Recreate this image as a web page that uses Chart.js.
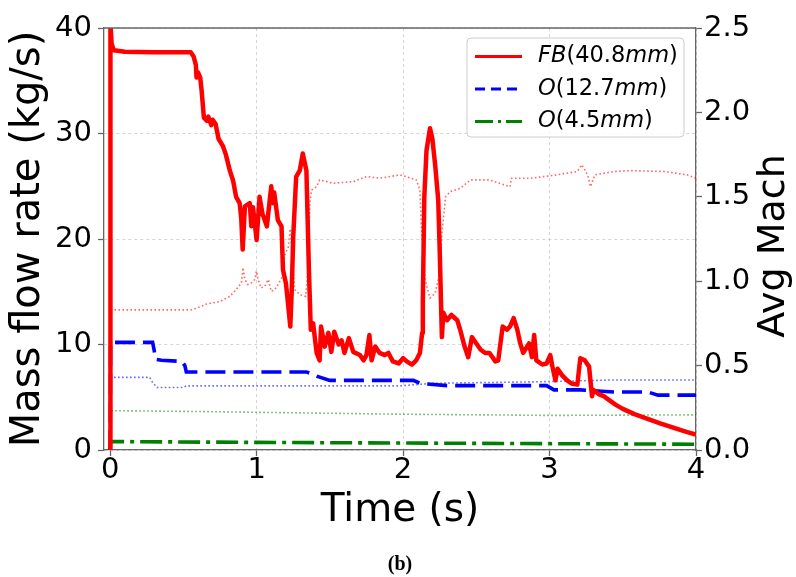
<!DOCTYPE html>
<html>
<head>
<meta charset="utf-8">
<script src="https://cdn.jsdelivr.net/npm/chart.js@4.4.1/dist/chart.umd.min.js"></script>
<style>
html,body{margin:0;padding:0;background:#fff;}
#c{display:block;}
</style>
</head>
<body>
<canvas id="c" width="796" height="577"></canvas>
<script>
// ---------- DATA ----------
const xTicks = [0, 1, 2, 3, 4];
const yTicks = [0, 10, 20, 30, 40];
const y2Ticks = [0, 0.5, 1.0, 1.5, 2.0, 2.5];
const legendLabels = ['FB(40.8mm)', 'O(12.7mm)', 'O(4.5mm)'];
const xTitle = 'Time (s)';
const yTitle = 'Mass flow rate (kg/s)';
const y2Title = 'Avg Mach';
const caption = '(b)';

// FB(40.8mm) mass flow rate
const fbTime = [
  0, 0.002, 0.01, 0.025, 0.1, 0.3, 0.55, 0.57, 0.585, 0.59,
  0.6, 0.615, 0.625, 0.64, 0.66, 0.67, 0.69, 0.7, 0.72, 0.74,
  0.77, 0.79, 0.817, 0.84, 0.86, 0.884, 0.895, 0.905, 0.92, 0.953,
  0.964, 0.975, 1.0, 1.02, 1.04, 1.07, 1.1, 1.11, 1.12, 1.145,
  1.17, 1.18, 1.2, 1.21, 1.23, 1.24, 1.25, 1.27, 1.295, 1.315,
  1.34, 1.357, 1.37, 1.386, 1.41, 1.43, 1.44, 1.465, 1.49, 1.51,
  1.53, 1.56, 1.58, 1.6, 1.63, 1.66, 1.705, 1.73, 1.75, 1.77,
  1.785, 1.81, 1.84, 1.875, 1.9, 1.93, 1.97, 2.0, 2.025, 2.06,
  2.09, 2.115, 2.13, 2.135, 2.145, 2.16, 2.184, 2.2, 2.22, 2.24,
  2.25, 2.265, 2.275, 2.3, 2.33, 2.37, 2.39, 2.42, 2.445, 2.47,
  2.5, 2.53, 2.56, 2.59, 2.63, 2.65, 2.68, 2.71, 2.73, 2.755,
  2.78, 2.8, 2.82, 2.86, 2.88, 2.895, 2.91, 2.95, 2.98, 3.005,
  3.02, 3.04, 3.055, 3.085, 3.12, 3.15, 3.19, 3.21, 3.24, 3.27,
  3.29, 3.3, 3.335, 3.37, 3.4, 3.45, 3.5, 3.58, 3.66, 3.76,
  3.86, 3.94, 4.0
];
const fbFlow = [
  0, 40.5, 38.5, 37.9, 37.75, 37.7, 37.7, 37.3, 36.5, 35.3,
  35.8, 35.3, 34.0, 31.5, 31.2, 31.6, 30.8, 31.3, 30.9, 29.5,
  28.8, 28.0, 26.5, 25.5, 24.0, 23.4, 22.0, 19.0, 23.1, 23.4,
  21.2, 23.0, 19.9, 24.0, 22.4, 21.2, 25.0, 23.4, 24.4, 21.8,
  21.2, 17.1, 15.8, 14.5, 11.7, 15.2, 20.2, 25.9, 26.5, 28.1,
  26.5, 17.1, 11.4, 12.0, 9.2, 8.5, 11.7, 9.8, 11.1, 9.3,
  11.2, 10.0, 10.4, 9.2, 10.6, 9.3, 9.0, 8.5, 9.0, 10.9,
  8.5, 9.8, 9.2, 9.0, 9.2, 8.4, 8.2, 8.7, 8.4, 8.1,
  8.5, 9.2, 11.1, 14.2, 24.0, 28.4, 30.5, 29.5, 26.9, 23.7,
  19.0, 10.7, 13.0, 12.3, 12.8, 12.3, 11.4, 9.8, 8.8, 10.7,
  10.1, 9.5, 9.2, 9.2, 8.4, 8.5, 11.7, 11.4, 11.7, 12.5,
  11.4, 10.1, 9.2, 10.1, 8.8, 10.9, 8.5, 8.1, 8.2, 9.0,
  7.9, 6.6, 7.7, 7.1, 6.6, 6.3, 6.2, 8.7, 8.5, 7.9,
  5.1, 5.7, 5.3, 5.1, 4.8, 4.3, 3.9, 3.4, 3.0, 2.5,
  2.05, 1.7, 1.45
];

// FB(40.8mm) average Mach (right axis)
const fbMachTime = [
  0, 0.003, 0.3, 0.55, 0.59, 0.66, 0.75, 0.817, 0.86, 0.896,
  0.907, 0.92, 0.94, 0.964, 0.987, 0.999, 1.01, 1.03, 1.055, 1.08,
  1.1, 1.124, 1.153, 1.176, 1.19, 1.215, 1.23, 1.26, 1.295, 1.335,
  1.35, 1.363, 1.375, 1.41, 1.43, 1.48, 1.52, 1.66, 1.75, 1.84,
  1.98, 2.09, 2.115, 2.127, 2.15, 2.184, 2.22, 2.25, 2.265, 2.29,
  2.32, 2.39, 2.46, 2.59, 2.73, 2.74, 2.87, 3.05, 3.19, 3.22,
  3.26, 3.28, 3.31, 3.44, 3.55, 3.78, 3.94, 4.0
];
const fbMach = [
  0, 0.83, 0.83, 0.83, 0.84, 0.865, 0.88, 0.91, 0.95, 0.99,
  1.08, 1.01, 0.98, 0.99, 1.01, 1.06, 1.01, 0.96, 0.97, 1.01,
  0.94, 0.95, 0.99, 1.03, 1.15, 1.2, 1.31, 0.95, 0.92, 0.91,
  1.07, 1.46, 1.54, 1.56, 1.6, 1.59, 1.58, 1.59, 1.62, 1.61,
  1.63, 1.6, 1.54, 1.28, 1.01, 0.9, 0.93, 1.05, 1.28, 1.5,
  1.53, 1.55, 1.6, 1.6, 1.56, 1.61, 1.61, 1.63, 1.65, 1.69,
  1.63, 1.56, 1.63, 1.65, 1.655, 1.65, 1.63, 1.61
];

// O(12.7mm)
const o12Time = [0, 0.003, 0.29, 0.30, 0.31, 0.35, 0.49, 0.51, 0.52, 1.34, 1.38, 1.41, 1.5, 2.07, 2.12, 2.3, 2.98, 3.03, 3.21, 3.44, 3.67, 3.74, 4.0];
const o12Flow = [0, 10.2, 10.2, 9.5, 8.6, 8.5, 8.4, 8.0, 7.4, 7.4, 7.2, 7.0, 6.6, 6.6, 6.3, 6.1, 6.1, 5.7, 5.7, 5.5, 5.5, 5.2, 5.2];
const o12MachTime = [0, 0.003, 0.27, 0.29, 0.32, 0.5, 0.52, 1.98, 2.2, 2.98, 3.44, 4.0];
const o12Mach = [0, 0.43, 0.43, 0.40, 0.37, 0.37, 0.38, 0.38, 0.395, 0.405, 0.415, 0.415];

// O(4.5mm)
const o45Time = [0, 0.003, 1.0, 2.0, 3.0, 4.0];
const o45Flow = [0, 0.8, 0.72, 0.66, 0.6, 0.55];
const o45MachTime = [0, 0.003, 0.6, 1.98, 3.0, 4.0];
const o45Mach = [0, 0.233, 0.228, 0.212, 0.205, 0.208];

// ---------- STYLE ----------
const FONT = '"DejaVu Sans", "Liberation Sans", sans-serif';
const SPINE = '#666666';
const GRID = 'rgba(170,170,170,0.55)';

const pts = (xs, ys) => xs.map((x, i) => ({x: x, y: ys[i]}));

const datasets = [
  {label: legendLabels[0], data: pts(fbTime, fbFlow), yAxisID: 'y',
   borderColor: '#ff0000', borderWidth: 4.5, borderJoinStyle: 'round'},
  {label: legendLabels[1], data: pts(o12Time, o12Flow), yAxisID: 'y',
   borderColor: '#0000ff', borderWidth: 3.6, borderDash: [20, 8]},
  {label: legendLabels[2], data: pts(o45Time, o45Flow), yAxisID: 'y',
   borderColor: '#008000', borderWidth: 3.6, borderDash: [22, 6, 4, 6]},
  {label: 'FB Mach', data: pts(fbMachTime, fbMach), yAxisID: 'y2',
   borderColor: 'rgba(255,0,0,0.6)', borderWidth: 1.6, borderDash: [1.6, 2.4]},
  {label: 'O12 Mach', data: pts(o12MachTime, o12Mach), yAxisID: 'y2',
   borderColor: 'rgba(0,0,255,0.6)', borderWidth: 1.6, borderDash: [1.6, 2.4]},
  {label: 'O45 Mach', data: pts(o45MachTime, o45Mach), yAxisID: 'y2',
   borderColor: 'rgba(0,128,0,0.6)', borderWidth: 1.6, borderDash: [1.6, 2.4]}
];
datasets.forEach(d => { d.pointRadius = 0; d.fill = false; d.tension = 0; });

const legendStyles = [
  {color: '#ff0000', dash: []},
  {color: '#0000ff', dash: [10, 6]},
  {color: '#008000', dash: [18, 5, 3, 5]}
];

function roundRect(ctx, x, y, w, h, r) {
  ctx.beginPath();
  ctx.moveTo(x + r, y);
  ctx.lineTo(x + w - r, y); ctx.quadraticCurveTo(x + w, y, x + w, y + r);
  ctx.lineTo(x + w, y + h - r); ctx.quadraticCurveTo(x + w, y + h, x + w - r, y + h);
  ctx.lineTo(x + r, y + h); ctx.quadraticCurveTo(x, y + h, x, y + h - r);
  ctx.lineTo(x, y + r); ctx.quadraticCurveTo(x, y, x + r, y);
  ctx.closePath();
}

function drawMath(ctx, text, x, y, size) {
  const parts = text.match(/[A-Za-z]+|[^A-Za-z]+/g);
  parts.forEach(p => {
    const it = /[A-Za-z]/.test(p);
    ctx.font = (it ? 'italic ' : '') + size + 'px ' + FONT;
    ctx.fillText(p, x, y);
    x += ctx.measureText(p).width;
  });
}

const extras = {
  id: 'extras',
  afterDraw(chart) {
    const ctx = chart.ctx;
    const a = chart.chartArea;
    ctx.save();
    // top spine
    ctx.strokeStyle = SPINE; ctx.lineWidth = 1.3; ctx.setLineDash([]);
    ctx.beginPath(); ctx.moveTo(a.left, a.top); ctx.lineTo(a.right, a.top); ctx.stroke();

    // legend
    const lx = 467, ly = 38, lw = 217, lh = 99;
    roundRect(ctx, lx, ly, lw, lh, 4);
    ctx.fillStyle = 'rgba(255,255,255,0.85)'; ctx.fill();
    ctx.strokeStyle = '#cccccc'; ctx.lineWidth = 1; ctx.stroke();
    const rows = [56.5, 89, 121.5];
    legendLabels.forEach((lab, i) => {
      const s = legendStyles[i];
      ctx.save();
      ctx.strokeStyle = s.color; ctx.lineWidth = 2.8; ctx.setLineDash(s.dash);
      ctx.beginPath(); ctx.moveTo(475, rows[i]); ctx.lineTo(522, rows[i]); ctx.stroke();
      ctx.restore();
      ctx.fillStyle = '#000'; ctx.textBaseline = 'middle'; ctx.textAlign = 'left';
      drawMath(ctx, lab, 538, rows[i], 22.5);
    });

    // right axis title
    ctx.save();
    ctx.translate(774, 246); ctx.rotate(-Math.PI / 2);
    ctx.font = '38px ' + FONT; ctx.fillStyle = '#000';
    ctx.textAlign = 'center'; ctx.textBaseline = 'middle';
    ctx.fillText(y2Title, 0, 0);
    ctx.restore();

    // caption
    ctx.font = 'bold 20px "Liberation Serif", "DejaVu Serif", serif';
    ctx.fillStyle = '#000'; ctx.textAlign = 'center'; ctx.textBaseline = 'middle';
    ctx.fillText(caption, 400, 565);
    ctx.restore();
  }
};

new Chart(document.getElementById('c'), {
  type: 'line',
  data: {datasets: datasets},
  plugins: [extras],
  options: {
    responsive: false,
    animation: false,
    events: [],
    layout: {padding: {top: 28, left: 0, right: 0, bottom: 0}},
    plugins: {legend: {display: false}, tooltip: {enabled: false}},
    scales: {
      x: {
        type: 'linear', min: -0.042, max: 4.0,
        afterBuildTicks: s => { s.ticks = xTicks.map(v => ({value: v})); },
        afterFit: s => { s.height = 127; },
        ticks: {font: {family: FONT, size: 29, lineHeight: 1}, color: '#000', padding: 0, maxRotation: 0,
                callback: v => String(v)},
        grid: {color: GRID, lineWidth: 0.9, tickColor: SPINE, tickLength: 6, tickWidth: 1.3},
        border: {color: SPINE, width: 1.3, dash: [3, 3]},
        title: {display: true, text: xTitle, color: '#000',
                font: {family: FONT, size: 39, lineHeight: 1}, padding: {top: 0, bottom: 47}}
      },
      y: {
        type: 'linear', position: 'left', min: 0, max: 40,
        afterBuildTicks: s => { s.ticks = yTicks.map(v => ({value: v})); },
        afterFit: s => { s.width = 104; },
        ticks: {font: {family: FONT, size: 29, lineHeight: 1}, color: '#000', padding: 6,
                callback: v => String(v)},
        grid: {color: GRID, lineWidth: 0.9, tickColor: SPINE, tickLength: 6, tickWidth: 1.3},
        border: {color: SPINE, width: 1.3, dash: [3, 3]},
        title: {display: true, text: yTitle, color: '#000',
                font: {family: FONT, size: 40, lineHeight: 1}, padding: {top: 9, bottom: 0}}
      },
      y2: {
        type: 'linear', position: 'right', min: 0, max: 2.5,
        afterBuildTicks: s => { s.ticks = y2Ticks.map(v => ({value: v})); },
        afterFit: s => { s.width = 100; },
        ticks: {font: {family: FONT, size: 29, lineHeight: 1}, color: '#000', padding: 2,
                callback: v => v.toFixed(1)},
        grid: {drawOnChartArea: false, tickColor: SPINE, tickLength: 6, tickWidth: 1.3},
        border: {color: SPINE, width: 1.3}
      }
    }
  }
});
</script>
</body>
</html>
